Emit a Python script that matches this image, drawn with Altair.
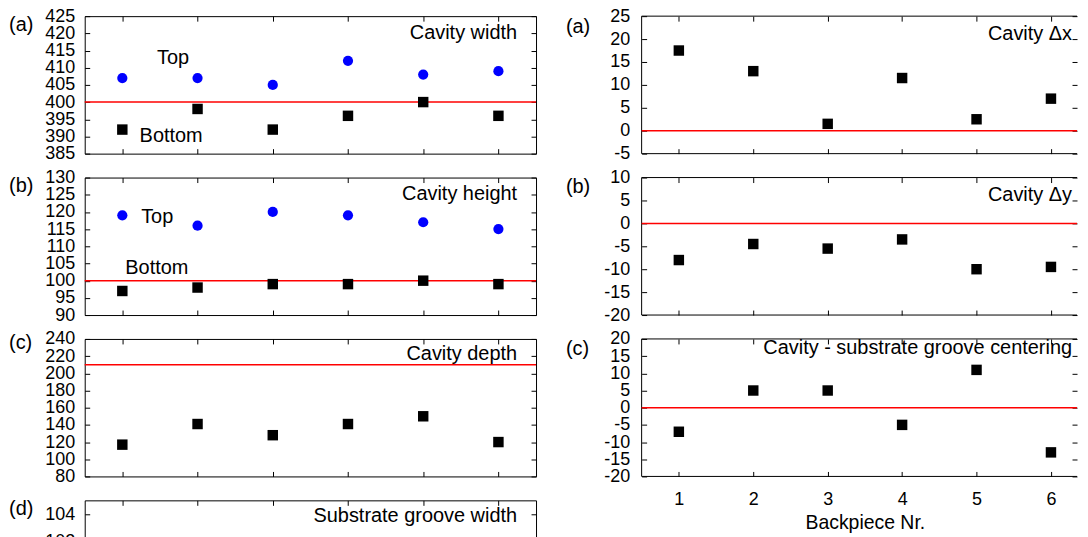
import altair as alt
import pandas as pd

FONT = "Liberation Sans"

# ---------------- data ----------------
backpiece = [1, 2, 3, 4, 5, 6]

cavity_width_top = [407, 407, 405, 412, 408, 409]
cavity_width_bottom = [392, 398, 392, 396, 400, 396]
cavity_height_top = [119, 116, 120, 119, 117, 115]
cavity_height_bottom = [97, 98, 99, 99, 100, 99]
cavity_depth = [117, 141, 128, 141, 150, 120]
cavity_dx = [17.5, 13, 1.5, 11.5, 2.5, 7]
cavity_dy = [-8, -4.5, -5.5, -3.5, -10, -9.5]
centering = [-7, 5, 5, -5, 11, -13]

ref_width = 400
ref_height = 100
ref_depth = 210
ref_zero = 0

ticks_width = [385, 390, 395, 400, 405, 410, 415, 420, 425]
ticks_height = [90, 95, 100, 105, 110, 115, 120, 125, 130]
ticks_depth = [80, 100, 120, 140, 160, 180, 200, 220, 240]
ticks_groove = [96, 98, 100, 102, 104]
ticks_dx = [-5, 0, 5, 10, 15, 20, 25]
ticks_dy = [-20, -15, -10, -5, 0, 5, 10]
ticks_cent = [-20, -15, -10, -5, 0, 5, 10, 15, 20]
x_ticks = [1, 2, 3, 4, 5, 6]

XDOM_LEFT = [0.5, 6.5]
XDOM_RIGHT = [0.5, 6.35]


def axis(orient, values, labels, pad=10, title=None):
    kw = dict(orient=orient, values=values, domain=False, grid=False,
              ticks=True, tickSize=5, tickColor="black", tickWidth=1,
              offset=-5, labels=labels)
    if labels:
        kw.update(labelFontSize=18, labelFont=FONT, labelColor="black",
                  labelPadding=pad, labelOverlap=False,
                  labelExpr="'' + datum.value")
    if title:
        kw.update(title=title, titleFontSize=19.5, titleFont=FONT,
                  titleColor="black", titleFontWeight="normal", titlePadding=5,
                  titleX=224, titleAlign="center")
    else:
        kw.update(title=None)
    return alt.Axis(**kw)


def panel(letter, name, xdom, ydom, yticks, series, ref, w, h, ypad,
          letter_dy, name_dy, name_x, xlabels=False, notes=(), open_right=False):
    xs = alt.Scale(domain=xdom, nice=False, zero=False)
    ys = alt.Scale(domain=ydom, nice=False, zero=False)
    frame = pd.DataFrame({"x": xdom, "y": ydom})

    bottom = axis("bottom", x_ticks, xlabels, pad=14,
                  title="Backpiece Nr." if xlabels else None)
    layers = [
        alt.Chart(frame).mark_point(opacity=0).encode(
            x=alt.X("x:Q", scale=xs, axis=bottom),
            y=alt.Y("y:Q", scale=ys, axis=axis("left", yticks, True, pad=ypad)),
        ),
        alt.Chart(frame).mark_point(opacity=0).encode(
            x=alt.X("x:Q", scale=xs, axis=axis("top", x_ticks, False)),
            y=alt.Y("y:Q", scale=ys, axis=axis("right", yticks, False)),
        ),
    ]
    if open_right:
        # frame drawn on three sides only (the right border lies past the crop)
        layers.append(
            alt.Chart(pd.DataFrame({"x": [xdom[0]]})).mark_rule(
                color="black", strokeWidth=1
            ).encode(x=alt.X("x:Q", scale=xs, axis=None))
        )
        layers.append(
            alt.Chart(pd.DataFrame({"y": ydom})).mark_rule(
                color="black", strokeWidth=1
            ).encode(y=alt.Y("y:Q", scale=ys, axis=None))
        )
    if ref is not None:
        layers.append(
            alt.Chart(pd.DataFrame({"y": [ref]})).mark_rule(
                color="#ff0000", strokeWidth=1.5
            ).encode(y=alt.Y("y:Q", scale=ys, axis=None))
        )
    for vals, shape, color in series:
        df = pd.DataFrame({"x": backpiece, "y": vals})
        if shape == "circle":
            m = alt.Chart(df).mark_circle(size=105, color=color, opacity=1)
        else:
            m = alt.Chart(df).mark_square(size=110, color=color, opacity=1)
        layers.append(m.encode(
            x=alt.X("x:Q", scale=xs, axis=None),
            y=alt.Y("y:Q", scale=ys, axis=None),
        ))
    for txt, nx, ny in notes:
        layers.append(
            alt.Chart(pd.DataFrame({"x": [nx], "y": [ny], "t": [txt]}))
            .mark_text(align="left", baseline="middle", font=FONT,
                       fontSize=20, color="black")
            .encode(x=alt.X("x:Q", scale=xs, axis=None),
                    y=alt.Y("y:Q", scale=ys, axis=None), text="t:N")
        )
    layers.append(
        alt.Chart(pd.DataFrame({"t": [name]}))
        .mark_text(align="right", baseline="middle", font=FONT,
                   fontSize=20, color="black")
        .encode(x=alt.value(name_x), y=alt.value(name_dy), text="t:N")
    )
    layers.append(
        alt.Chart(pd.DataFrame({"t": [letter]}))
        .mark_text(align="left", baseline="middle", font=FONT,
                   fontSize=20, color="black")
        .encode(x=alt.value(-76), y=alt.value(letter_dy), text="t:N")
    )
    ch = (
        alt.layer(*layers)
        .resolve_axis(x="independent", y="independent")
        .properties(width=w, height=h)
    )
    if open_right:
        ch = ch.properties(view=alt.ViewBackground(stroke=None))
    return ch


WL, WR, H = 453, 437, 138
SQ = "square"
CI = "circle"

la = panel("(a)", "Cavity width", XDOM_LEFT, [385, 425], ticks_width,
           [(cavity_width_top, CI, "#0000ff"), (cavity_width_bottom, SQ, "black")],
           ref_width, WL, H, 10, 9, 17, 434,
           notes=[("Top", 1.46, 412.8), ("Bottom", 1.23, 390.2)])
lb = panel("(b)", "Cavity height", XDOM_LEFT, [90, 130], ticks_height,
           [(cavity_height_top, CI, "#0000ff"), (cavity_height_bottom, SQ, "black")],
           ref_height, WL, H, 10, 8, 16.5, 434,
           notes=[("Top", 1.25, 118.4), ("Bottom", 1.04, 103.6)])
lc = panel("(c)", "Cavity depth", XDOM_LEFT, [80, 240], ticks_depth,
           [(cavity_depth, SQ, "black")], ref_depth, WL, H, 10, 4, 15, 434)
ld = panel("(d)", "Substrate groove width", XDOM_LEFT, [95, 105], ticks_groove,
           [], None, WL, H, 10, 9, 16, 434)

ra = panel("(a)", "Cavity \u0394x", XDOM_RIGHT, [-5, 25], ticks_dx,
           [(cavity_dx, SQ, "black")], ref_zero, WR, H, 12, 11, 17.5, 432,
           open_right=True)
rb = panel("(b)", "Cavity \u0394y", XDOM_RIGHT, [-20, 10], ticks_dy,
           [(cavity_dy, SQ, "black")], ref_zero, WR, H, 12, 10, 17.5, 432,
           open_right=True)
rc = panel("(c)", "Cavity - substrate groove centering", XDOM_RIGHT, [-20, 20],
           ticks_cent, [(centering, SQ, "black")], ref_zero, WR, H, 12, 10, 9, 432,
           xlabels=True, open_right=True)

chart = (
    alt.concat(la, ra, lb, rb, lc, rc, ld, columns=2,
               spacing={"row": 24, "column": 106}, bounds="flush")
    .properties(padding={"left": 0, "top": -3, "right": 0, "bottom": 0},
                background="white")
    .configure_view(stroke="black", strokeWidth=1)
)

chart.save("out.html", embed_options={"renderer": "svg", "actions": False})
